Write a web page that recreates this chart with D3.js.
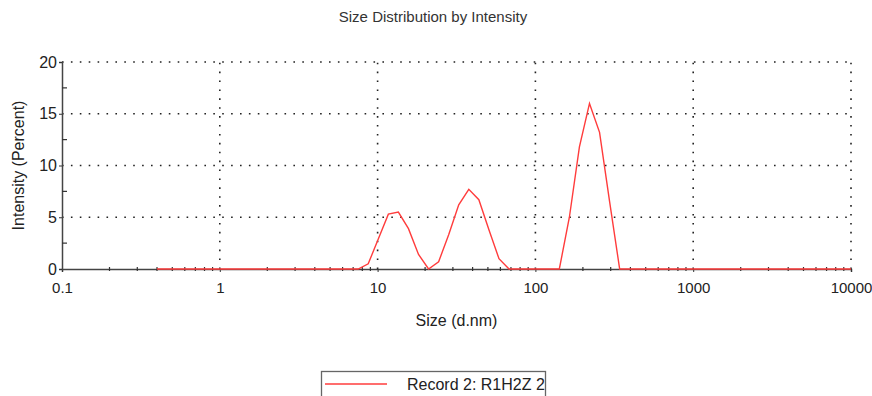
<!DOCTYPE html>
<html>
<head>
<meta charset="utf-8">
<script src="https://cdn.jsdelivr.net/npm/d3@7"></script>
<style>
  body { margin: 0; background: #fff; }
  text { font-family: "Liberation Sans", Arial, sans-serif; }
</style>
</head>
<body>
<div id="graph"></div>
<script>
      // size bins (d.nm) of the instrument, log spaced from 0.4 to 10000
      var sizes = [0.4000, 0.4632, 0.5365, 0.6213, 0.7195, 0.8332, 0.9649,
                   1.117, 1.294, 1.499, 1.736, 2.010, 2.328, 2.696, 3.122, 3.615,
                   4.187, 4.849, 5.615, 6.503, 7.531, 8.721,
                   10.10, 11.70, 13.54, 15.69, 18.17, 21.04, 24.36, 28.21, 32.67,
                   37.84, 43.82, 50.75, 58.77, 68.06, 78.82, 91.28,
                   105.7, 122.4, 141.8, 164.2, 190.1, 220.2, 255.0, 295.3, 342.0,
                   396.1, 458.7, 531.2, 615.1, 712.4, 825.0, 955.4,
                   1106, 1281, 1484, 1718, 1990, 2305, 2669, 3091, 3580, 4145,
                   4801, 5560, 6439, 7456, 8635, 10000];

      // intensity (percent) for each bin
      var intensity = [0, 0, 0, 0, 0, 0, 0,
                       0, 0, 0, 0, 0, 0, 0, 0, 0,
                       0, 0, 0, 0, 0, 0.5,
                       2.9, 5.3, 5.5, 3.9, 1.4, 0, 0.7, 3.3, 6.2,
                       7.7, 6.7, 3.8, 1.0, 0, 0, 0,
                       0, 0, 0, 5.0, 11.8, 16.0, 13.2, 6.5, 0,
                       0, 0, 0, 0, 0, 0, 0,
                       0, 0, 0, 0, 0, 0, 0, 0, 0, 0,
                       0, 0, 0, 0, 0, 0];

      var xTicks = [0.1, 1, 10, 100, 1000, 10000];
      var xTickLabels = ["0.1", "1", "10", "100", "1000", "10000"];
      var yTicks = [0, 5, 10, 15, 20];
      var yMinorTicks = [2.5, 7.5, 12.5, 17.5];
      var seriesName = "Record 2: R1H2Z 2";

      var w = 872;
      var h = 396;
      // plot box edges (don't call these top/left: window.top is read only)
      var pLeft = 62, pRight = 851, pTop = 62, pBottom = 269;

      var xScale = d3.scaleLog()
                      .domain([0.1, 10000])
                      .range([pLeft, pRight]);

      var yScale = d3.scaleLinear()
                      .domain([0, 20])
                      .range([pBottom, pTop]);

      // minor ticks 2..9 in every decade
      var xMinor = [];
      xTicks.slice(0, -1).forEach(function(d){
        for (var k = 2; k <= 9; k++) xMinor.push(d * k);
      });

      var svg = d3.select("#graph")
                  .append("svg")
                  .attr("width", w)
                  .attr("height", h);

      // dotted grid (also the top and right border)
      var gridStyle = function(sel){
        sel.attr("stroke", "#222")
           .attr("stroke-width", 1.6)
           .attr("stroke-dasharray", "1.6,7.3");
      };

      svg.selectAll("line.vgrid")
          .data(xTicks.slice(1))
          .enter()
          .append("line")
          .attr("class", "vgrid")
          .attr("x1", function(d){ return xScale(d); })
          .attr("x2", function(d){ return xScale(d); })
          .attr("y1", pBottom)
          .attr("y2", pTop)
          .call(gridStyle);

      svg.selectAll("line.hgrid")
          .data(yTicks.slice(1))
          .enter()
          .append("line")
          .attr("class", "hgrid")
          .attr("x1", pLeft)
          .attr("x2", pRight)
          .attr("y1", function(d){ return yScale(d); })
          .attr("y2", function(d){ return yScale(d); })
          .call(gridStyle);

      // x axis
      var xAxis = svg.append("g")
          .attr("transform", "translate(0," + pBottom + ")")
          .call(d3.axisBottom(xScale)
                  .tickValues(xTicks)
                  .tickSize(3)
                  .tickFormat(function(d, i){ return xTickLabels[i]; }));

      xAxis.selectAll("text")
          .attr("y", 13)
          .attr("font-size", "15px")
          .attr("fill", "#222");

      svg.selectAll("line.xminor")
          .data(xMinor)
          .enter()
          .append("line")
          .attr("class", "xminor")
          .attr("x1", function(d){ return xScale(d); })
          .attr("x2", function(d){ return xScale(d); })
          .attr("y1", pBottom - 2)
          .attr("y2", pBottom + 2)
          .attr("stroke", "#333")
          .attr("stroke-width", 1.2);

      // y axis
      var yAxis = svg.append("g")
          .attr("transform", "translate(" + pLeft + ",0)")
          .call(d3.axisLeft(yScale)
                  .tickValues(yTicks)
                  .tickSize(3)
                  .tickPadding(2));

      yAxis.selectAll("text")
          .attr("font-size", "16px")
          .attr("fill", "#222");

      svg.selectAll("line.yminor")
          .data(yMinorTicks)
          .enter()
          .append("line")
          .attr("class", "yminor")
          .attr("x1", pLeft)
          .attr("x2", pLeft + 5)
          .attr("y1", function(d){ return yScale(d); })
          .attr("y2", function(d){ return yScale(d); })
          .attr("stroke", "#333")
          .attr("stroke-width", 1.2);

      svg.selectAll(".domain")
          .attr("stroke", "#444")
          .attr("stroke-width", 1.5);
      svg.selectAll(".tick line")
          .attr("stroke", "#333");

      // the series
      var line = d3.line()
          .x(function(d, i){ return xScale(sizes[i]); })
          .y(function(d){ return yScale(d); });

      svg.append("path")
          .datum(intensity)
          .attr("d", line)
          .attr("fill", "none")
          .attr("stroke", "#ff3c3c")
          .attr("stroke-width", 1.4);

      // titles
      svg.append("text")
          .text("Size Distribution by Intensity")
          .attr("x", 433)
          .attr("y", 22)
          .attr("text-anchor", "middle")
          .attr("font-size", "15px")
          .attr("fill", "#333");

      svg.append("text")
          .text("Size (d.nm)")
          .attr("x", (pLeft + pRight) / 2)
          .attr("y", 326)
          .attr("text-anchor", "middle")
          .attr("font-size", "16px")
          .attr("fill", "#222");

      svg.append("text")
          .text("Intensity (Percent)")
          .attr("transform", "translate(24," + ((pTop + pBottom) / 2) + ") rotate(-90)")
          .attr("text-anchor", "middle")
          .attr("font-size", "16px")
          .attr("fill", "#222");

      // legend
      var legend = svg.append("g");

      legend.append("rect")
          .attr("x", 321.5)
          .attr("y", 371.5)
          .attr("width", 224)
          .attr("height", 40)
          .attr("fill", "#fff")
          .attr("stroke", "#666")
          .attr("stroke-width", 1.3);

      legend.append("line")
          .attr("x1", 325)
          .attr("x2", 387)
          .attr("y1", 384)
          .attr("y2", 384)
          .attr("stroke", "#ff3c3c")
          .attr("stroke-width", 1.4);

      legend.append("text")
          .text(seriesName)
          .attr("x", 407)
          .attr("y", 390)
          .attr("font-size", "16px")
          .attr("fill", "#222");
</script>
</body>
</html>
